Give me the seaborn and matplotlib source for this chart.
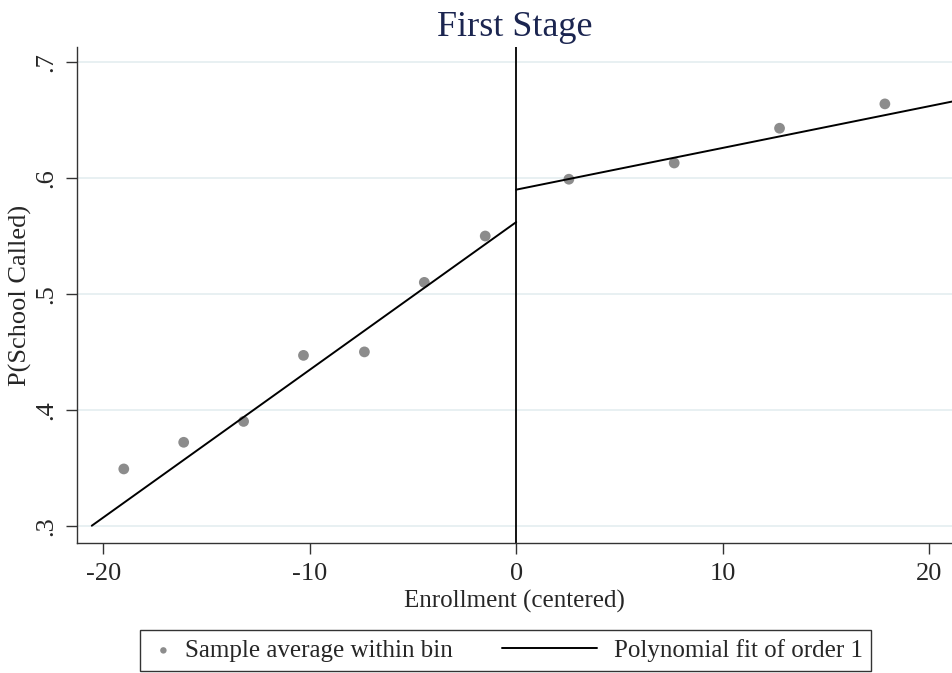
import matplotlib
matplotlib.use("Agg")
import matplotlib.pyplot as plt
import pandas as pd
import seaborn as sns
from matplotlib.legend_handler import HandlerLine2D
from matplotlib.lines import Line2D

# binned sample averages
bin_x = [-19.0, -16.1, -13.2, -10.3, -7.35, -4.45, -1.5, 2.55, 7.65, 12.75, 17.85]
bin_y = [0.349, 0.372, 0.390, 0.447, 0.450, 0.510, 0.550, 0.599, 0.613, 0.643, 0.664]

# linear fit endpoints on each side of the cutoff
fit_left_x = [-20.55, 0.0]
fit_left_y = [0.300, 0.562]
fit_right_x = [0.0, 21.1]
fit_right_y = [0.590, 0.666]

y_ticks = [0.3, 0.4, 0.5, 0.6, 0.7]
y_tick_labels = [".3", ".4", ".5", ".6", ".7"]
x_ticks = [-20, -10, 0, 10, 20]


class LongLineHandler(HandlerLine2D):
    # stata draws the line key wider than the marker key
    def create_artists(self, legend, orig_handle, xdescent, ydescent,
                       width, height, fontsize, trans):
        y = height / 2 - ydescent
        line = Line2D([-54 - xdescent, 14 - xdescent], [y, y])
        self.update_prop(line, orig_handle, legend)
        line.set_marker("")
        line.set_transform(trans)
        return [line]


sns.set_theme(style="white")
plt.rcParams["font.family"] = ["Liberation Serif", "DejaVu Serif"]

bins = pd.DataFrame({"x": bin_x, "y": bin_y})
left = pd.DataFrame({"x": fit_left_x, "y": fit_left_y})
right = pd.DataFrame({"x": fit_right_x, "y": fit_right_y})

fig = plt.figure(figsize=(9.52, 6.73), dpi=100)
ax = fig.add_axes([0.081, 0.193, 0.919, 0.737])

for yt in y_ticks:
    ax.axhline(yt, color="#e4edf0", lw=1.2, zorder=0)

sns.scatterplot(data=bins, x="x", y="y", ax=ax, color="#8c8c8c", s=60,
                edgecolor="none", label="Sample average within bin", zorder=3)
sns.lineplot(data=left, x="x", y="y", ax=ax, color="black", lw=1.4,
             label="Polynomial fit of order 1", zorder=4)
sns.lineplot(data=right, x="x", y="y", ax=ax, color="black", lw=1.4, zorder=4)
ax.axvline(0, color="black", lw=1.3, zorder=2)

ax.set_xlim(-21.26, 21.1)
ax.set_ylim(0.285, 0.713)
ax.set_xticks(x_ticks)
ax.set_xticklabels([str(v) for v in x_ticks], fontsize=19)
ax.set_yticks(y_ticks)
ax.set_yticklabels(y_tick_labels, fontsize=19, rotation=90, va="center")
ax.tick_params(axis="both", direction="out", length=8, width=1, color="#333333",
               bottom=True, left=True, pad=6)
ax.set_xlabel("Enrollment (centered)", fontsize=18, labelpad=4)
ax.set_ylabel("P(School Called)", fontsize=19, labelpad=3)
ax.set_title("First Stage", fontsize=26, color="#1b2550", pad=8)

for side in ["top", "right"]:
    ax.spines[side].set_visible(False)
for side in ["left", "bottom"]:
    ax.spines[side].set_color("#333333")
    ax.spines[side].set_linewidth(1.0)

handles, labels = ax.get_legend_handles_labels()
ax.get_legend().remove()
leg = fig.legend(handles, labels, loc="center", bbox_to_anchor=(0.531, 0.0335),
                 ncol=2, fontsize=18, frameon=True, fancybox=False,
                 edgecolor="black", borderpad=0.35, columnspacing=5.0,
                 handlelength=1.2, handletextpad=0.25, markerscale=0.6,
                 handler_map={handles[1]: LongLineHandler()})
leg.get_frame().set_linewidth(1.0)

fig.savefig("out.png", dpi=100)
